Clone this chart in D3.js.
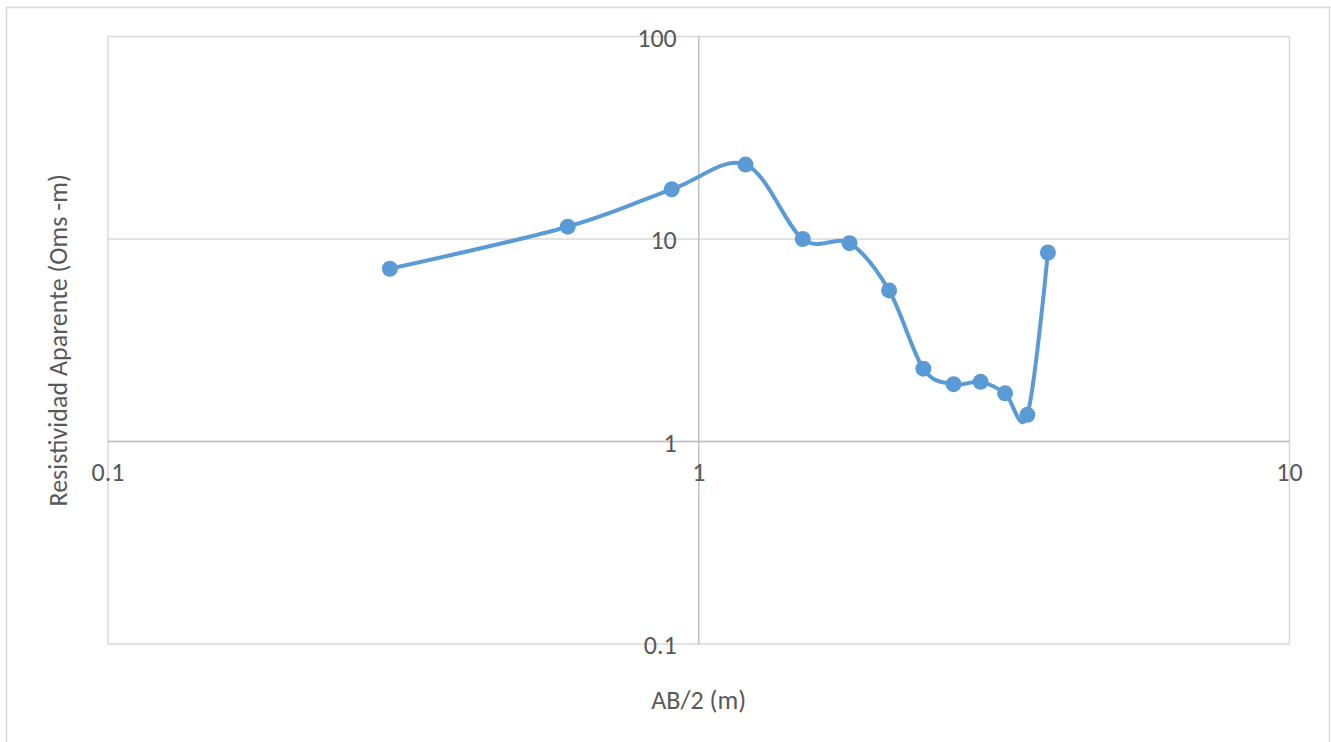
<!DOCTYPE html>
<html><head><meta charset="utf-8">
<script src="https://cdn.jsdelivr.net/npm/d3@7"></script>
<style>body{margin:0;background:#fff}svg text{font-family:Carlito,Lato,"Open Sans",sans-serif;fill:#595959}</style>
</head><body><svg id="c" width="1331" height="742"></svg>
<script>
const abHalf = [0.3,0.6,0.9,1.2,1.5,1.8,2.1,2.4,2.7,3.0,3.3,3.6,3.9];
const resistivity = [7.13,11.5,17.6,23.3,10.0,9.54,5.57,2.29,1.92,1.97,1.73,1.355,8.58];
const xTicks = [0.1,1,10];
const yTicks = [0.1,1,10,100];
const xTitle = "AB/2 (m)";
const yTitle = "Resistividad Aparente (Oms -m)";

const svg = d3.select("#c");
svg.append("rect").attr("x",6.5).attr("y",7.5).attr("width",1323).attr("height",740).attr("fill","none").attr("stroke","#d9d9d9").attr("stroke-width",1.5);
const L=108,R=1289.5,T=36.5,B=644;
const x = d3.scaleLog().domain([0.1,10]).range([L,R]);
const y = d3.scaleLog().domain([0.1,100]).range([B,T]);
const g = svg.append("g");
g.selectAll(".hg").data(yTicks).join("line").attr("x1",L).attr("x2",R).attr("y1",d=>y(d)).attr("y2",d=>y(d)).attr("stroke","#d9d9d9").attr("stroke-width",1.5);
g.selectAll(".vg").data(xTicks).join("line").attr("y1",T).attr("y2",B).attr("x1",d=>x(d)).attr("x2",d=>x(d)).attr("stroke",d=>d===1?"#bfbfbf":"#d9d9d9").attr("stroke-width",1.5);
g.append("line").attr("x1",L).attr("x2",R).attr("y1",y(1)).attr("y2",y(1)).attr("stroke","#bfbfbf").attr("stroke-width",1.5);
const fs=26;
g.selectAll(".yl").data(yTicks).join("text").attr("x",x(1)-22).attr("y",d=>y(d)+1).attr("dy","0.35em").attr("text-anchor","end").attr("font-size",fs).text(d=>d3.format("~g")(d));
g.selectAll(".xl").data(xTicks).join("text").attr("x",d=>x(d)).attr("y",y(1)+30).attr("dy","0.35em").attr("text-anchor","middle").attr("font-size",fs).text(d=>d3.format("~g")(d));
svg.append("text").attr("x",(L+R)/2).attr("y",700).attr("dy","0.35em").attr("text-anchor","middle").attr("font-size",fs).text(xTitle);
svg.append("text").attr("transform",`translate(58,${(T+B)/2}) rotate(-90)`).attr("dy","0.35em").attr("text-anchor","middle").attr("font-size",fs).text(yTitle);
const pts = abHalf.map((d,i)=>[d,resistivity[i]]);
const line = d3.line().x(d=>x(d[0])).y(d=>y(d[1])).curve(d3.curveCardinal.tension(0));
g.append("path").datum(pts).attr("d",line).attr("fill","none").attr("stroke","#5b9bd5").attr("stroke-width",4).attr("stroke-linecap","round").attr("stroke-linejoin","round");
g.selectAll(".pt").data(pts).join("circle").attr("cx",d=>x(d[0])).attr("cy",d=>y(d[1])).attr("r",8).attr("fill","#5b9bd5");
</script></body></html>
